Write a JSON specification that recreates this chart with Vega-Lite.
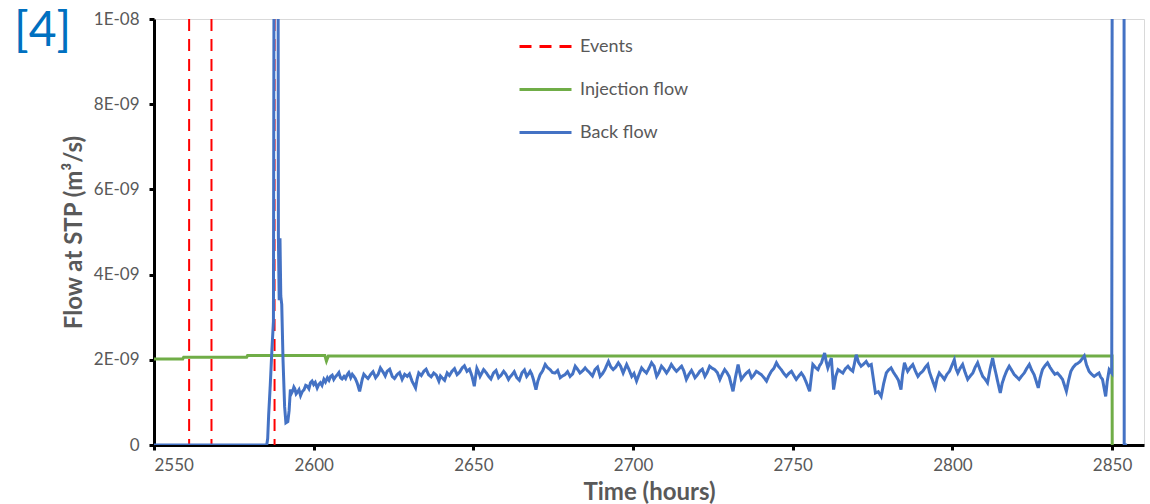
{
  "$schema": "https://vega.github.io/schema/vega-lite/v6.json",
  "width": 990,
  "height": 426,
  "autosize": {"type": "none"},
  "padding": {"left": 154, "top": 19, "right": 6, "bottom": 59},
  "title": {"text": "[4]", "anchor": "start", "orient": "top", "frame": "group", "fontSize": 48, "fontWeight": "normal", "color": "#0070C0", "font": "Lato", "dx": -140, "dy": 46, "offset": 0},
  "config": {"view": {"stroke": "#d9d9d9", "strokeWidth": 1}, "font": "Lato"},
  "datasets": {
    "flows": [
      {"s": "Injection flow", "t": 2550, "v": 2.02e-9},
      {"s": "Injection flow", "t": 2559, "v": 2.02e-9},
      {"s": "Injection flow", "t": 2559.3, "v": 2.06e-9},
      {"s": "Injection flow", "t": 2579, "v": 2.06e-9},
      {"s": "Injection flow", "t": 2579.3, "v": 2.1e-9},
      {"s": "Injection flow", "t": 2603.5, "v": 2.1e-9},
      {"s": "Injection flow", "t": 2604, "v": 1.97e-9},
      {"s": "Injection flow", "t": 2604.6, "v": 2.09e-9},
      {"s": "Injection flow", "t": 2850, "v": 2.09e-9},
      {"s": "Injection flow", "t": 2850.05, "v": 0},
      {"s": "Events", "t": 2561},
      {"s": "Events", "t": 2568},
      {"s": "Events", "t": 2587.75},
      {"s": "Back flow", "t": 2550, "v": 0},
      {"s": "Back flow", "t": 2560, "v": 0},
      {"s": "Back flow", "t": 2570, "v": 0},
      {"s": "Back flow", "t": 2580, "v": 0},
      {"s": "Back flow", "t": 2585.3, "v": 0},
      {"s": "Back flow", "t": 2585.6, "v": 0.15e-9},
      {"s": "Back flow", "t": 2585.9, "v": 0.7e-9},
      {"s": "Back flow", "t": 2586.4, "v": 1.4e-9},
      {"s": "Back flow", "t": 2586.9, "v": 2.2e-9},
      {"s": "Back flow", "t": 2587.4, "v": 2.9e-9},
      {"s": "Back flow", "t": 2587.6, "v": 1.2e-8},
      {"s": "Back flow", "t": 2588.85, "v": 1.2e-8},
      {"s": "Back flow", "t": 2588.95, "v": 4.9e-9},
      {"s": "Back flow", "t": 2589.2, "v": 3.4e-9},
      {"s": "Back flow", "t": 2589.45, "v": 4.85e-9},
      {"s": "Back flow", "t": 2589.7, "v": 3.5e-9},
      {"s": "Back flow", "t": 2590.0, "v": 3.3e-9},
      {"s": "Back flow", "t": 2590.4, "v": 2.0e-9},
      {"s": "Back flow", "t": 2590.9, "v": 0.9e-9},
      {"s": "Back flow", "t": 2591.3, "v": 0.52e-9},
      {"s": "Back flow", "t": 2591.9, "v": 0.55e-9},
      {"s": "Back flow", "t": 2592.3, "v": 0.8e-9},
      {"s": "Back flow", "t": 2592.7, "v": 1.30e-9},
      {"s": "Back flow", "t": 2593.1, "v": 1.22e-9},
      {"s": "Back flow", "t": 2593.5, "v": 1.28e-9},
      {"s": "Back flow", "t": 2593.8, "v": 1.36e-9},
      {"s": "Back flow", "t": 2594.1, "v": 1.32e-9},
      {"s": "Back flow", "t": 2594.5, "v": 1.20e-9},
      {"s": "Back flow", "t": 2594.9, "v": 1.24e-9},
      {"s": "Back flow", "t": 2595.4, "v": 1.30e-9},
      {"s": "Back flow", "t": 2595.9, "v": 1.16e-9},
      {"s": "Back flow", "t": 2596.4, "v": 1.25e-9},
      {"s": "Back flow", "t": 2597, "v": 1.30e-9},
      {"s": "Back flow", "t": 2597.5, "v": 1.40e-9},
      {"s": "Back flow", "t": 2598, "v": 1.38e-9},
      {"s": "Back flow", "t": 2598.5, "v": 1.32e-9},
      {"s": "Back flow", "t": 2599, "v": 1.46e-9},
      {"s": "Back flow", "t": 2599.5, "v": 1.50e-9},
      {"s": "Back flow", "t": 2600, "v": 1.42e-9},
      {"s": "Back flow", "t": 2600.5, "v": 1.47e-9},
      {"s": "Back flow", "t": 2601.1, "v": 1.34e-9},
      {"s": "Back flow", "t": 2601.6, "v": 1.42e-9},
      {"s": "Back flow", "t": 2602.1, "v": 1.46e-9},
      {"s": "Back flow", "t": 2602.6, "v": 1.40e-9},
      {"s": "Back flow", "t": 2603.2, "v": 1.54e-9},
      {"s": "Back flow", "t": 2603.7, "v": 1.48e-9},
      {"s": "Back flow", "t": 2604.3, "v": 1.58e-9},
      {"s": "Back flow", "t": 2604.8, "v": 1.52e-9},
      {"s": "Back flow", "t": 2605.3, "v": 1.61e-9},
      {"s": "Back flow", "t": 2605.8, "v": 1.64e-9},
      {"s": "Back flow", "t": 2606.3, "v": 1.54e-9},
      {"s": "Back flow", "t": 2606.8, "v": 1.60e-9},
      {"s": "Back flow", "t": 2607.4, "v": 1.65e-9},
      {"s": "Back flow", "t": 2607.9, "v": 1.70e-9},
      {"s": "Back flow", "t": 2608.4, "v": 1.58e-9},
      {"s": "Back flow", "t": 2608.9, "v": 1.55e-9},
      {"s": "Back flow", "t": 2609.5, "v": 1.61e-9},
      {"s": "Back flow", "t": 2610.0, "v": 1.56e-9},
      {"s": "Back flow", "t": 2610.5, "v": 1.65e-9},
      {"s": "Back flow", "t": 2611.0, "v": 1.70e-9},
      {"s": "Back flow", "t": 2611.6, "v": 1.58e-9},
      {"s": "Back flow", "t": 2612.1, "v": 1.66e-9},
      {"s": "Back flow", "t": 2612.6, "v": 1.61e-9},
      {"s": "Back flow", "t": 2613.1, "v": 1.55e-9},
      {"s": "Back flow", "t": 2613.6, "v": 1.46e-9},
      {"s": "Back flow", "t": 2614.4, "v": 1.26e-9},
      {"s": "Back flow", "t": 2614.8, "v": 1.40e-9},
      {"s": "Back flow", "t": 2615.2, "v": 1.54e-9},
      {"s": "Back flow", "t": 2615.7, "v": 1.66e-9},
      {"s": "Back flow", "t": 2616.3, "v": 1.61e-9},
      {"s": "Back flow", "t": 2617.0, "v": 1.56e-9},
      {"s": "Back flow", "t": 2617.8, "v": 1.65e-9},
      {"s": "Back flow", "t": 2618.6, "v": 1.72e-9},
      {"s": "Back flow", "t": 2619.4, "v": 1.58e-9},
      {"s": "Back flow", "t": 2620.2, "v": 1.66e-9},
      {"s": "Back flow", "t": 2620.9, "v": 1.81e-9},
      {"s": "Back flow", "t": 2621.4, "v": 1.75e-9},
      {"s": "Back flow", "t": 2621.9, "v": 1.69e-9},
      {"s": "Back flow", "t": 2622.4, "v": 1.62e-9},
      {"s": "Back flow", "t": 2623, "v": 1.73e-9},
      {"s": "Back flow", "t": 2623.8, "v": 1.78e-9},
      {"s": "Back flow", "t": 2624.6, "v": 1.61e-9},
      {"s": "Back flow", "t": 2625.3, "v": 1.56e-9},
      {"s": "Back flow", "t": 2626.1, "v": 1.65e-9},
      {"s": "Back flow", "t": 2626.9, "v": 1.70e-9},
      {"s": "Back flow", "t": 2627.7, "v": 1.54e-9},
      {"s": "Back flow", "t": 2628.5, "v": 1.66e-9},
      {"s": "Back flow", "t": 2629.3, "v": 1.61e-9},
      {"s": "Back flow", "t": 2630.0, "v": 1.67e-9},
      {"s": "Back flow", "t": 2630.8, "v": 1.50e-9},
      {"s": "Back flow", "t": 2631.9, "v": 1.34e-9},
      {"s": "Back flow", "t": 2632.4, "v": 1.55e-9},
      {"s": "Back flow", "t": 2632.9, "v": 1.69e-9},
      {"s": "Back flow", "t": 2633.7, "v": 1.63e-9},
      {"s": "Back flow", "t": 2634.5, "v": 1.73e-9},
      {"s": "Back flow", "t": 2635.2, "v": 1.78e-9},
      {"s": "Back flow", "t": 2636.0, "v": 1.65e-9},
      {"s": "Back flow", "t": 2636.8, "v": 1.60e-9},
      {"s": "Back flow", "t": 2637.6, "v": 1.69e-9},
      {"s": "Back flow", "t": 2638.4, "v": 1.64e-9},
      {"s": "Back flow", "t": 2639.2, "v": 1.50e-9},
      {"s": "Back flow", "t": 2639.7, "v": 1.62e-9},
      {"s": "Back flow", "t": 2640.2, "v": 1.58e-9},
      {"s": "Back flow", "t": 2641.0, "v": 1.52e-9},
      {"s": "Back flow", "t": 2641.8, "v": 1.69e-9},
      {"s": "Back flow", "t": 2642.5, "v": 1.63e-9},
      {"s": "Back flow", "t": 2643.3, "v": 1.73e-9},
      {"s": "Back flow", "t": 2644.1, "v": 1.79e-9},
      {"s": "Back flow", "t": 2644.9, "v": 1.65e-9},
      {"s": "Back flow", "t": 2645.7, "v": 1.71e-9},
      {"s": "Back flow", "t": 2646.5, "v": 1.81e-9},
      {"s": "Back flow", "t": 2647.2, "v": 1.86e-9},
      {"s": "Back flow", "t": 2648.0, "v": 1.73e-9},
      {"s": "Back flow", "t": 2648.8, "v": 1.78e-9},
      {"s": "Back flow", "t": 2649.6, "v": 1.61e-9},
      {"s": "Back flow", "t": 2650.3, "v": 1.38e-9},
      {"s": "Back flow", "t": 2650.7, "v": 1.60e-9},
      {"s": "Back flow", "t": 2651.1, "v": 1.80e-9},
      {"s": "Back flow", "t": 2651.6, "v": 1.72e-9},
      {"s": "Back flow", "t": 2652.1, "v": 1.61e-9},
      {"s": "Back flow", "t": 2652.6, "v": 1.68e-9},
      {"s": "Back flow", "t": 2653.2, "v": 1.77e-9},
      {"s": "Back flow", "t": 2654.0, "v": 1.70e-9},
      {"s": "Back flow", "t": 2654.8, "v": 1.61e-9},
      {"s": "Back flow", "t": 2655.5, "v": 1.55e-9},
      {"s": "Back flow", "t": 2656.3, "v": 1.69e-9},
      {"s": "Back flow", "t": 2657.1, "v": 1.75e-9},
      {"s": "Back flow", "t": 2657.9, "v": 1.58e-9},
      {"s": "Back flow", "t": 2658.7, "v": 1.64e-9},
      {"s": "Back flow", "t": 2659.5, "v": 1.73e-9},
      {"s": "Back flow", "t": 2660.2, "v": 1.66e-9},
      {"s": "Back flow", "t": 2661.0, "v": 1.54e-9},
      {"s": "Back flow", "t": 2661.5, "v": 1.60e-9},
      {"s": "Back flow", "t": 2662.1, "v": 1.65e-9},
      {"s": "Back flow", "t": 2662.8, "v": 1.72e-9},
      {"s": "Back flow", "t": 2663.6, "v": 1.58e-9},
      {"s": "Back flow", "t": 2664.4, "v": 1.52e-9},
      {"s": "Back flow", "t": 2665.2, "v": 1.69e-9},
      {"s": "Back flow", "t": 2666.0, "v": 1.76e-9},
      {"s": "Back flow", "t": 2666.7, "v": 1.61e-9},
      {"s": "Back flow", "t": 2667.2, "v": 1.66e-9},
      {"s": "Back flow", "t": 2667.8, "v": 1.73e-9},
      {"s": "Back flow", "t": 2668.3, "v": 1.66e-9},
      {"s": "Back flow", "t": 2668.8, "v": 1.54e-9},
      {"s": "Back flow", "t": 2669.6, "v": 1.30e-9},
      {"s": "Back flow", "t": 2670.2, "v": 1.50e-9},
      {"s": "Back flow", "t": 2670.9, "v": 1.65e-9},
      {"s": "Back flow", "t": 2671.7, "v": 1.74e-9},
      {"s": "Back flow", "t": 2672.5, "v": 1.89e-9},
      {"s": "Back flow", "t": 2673.2, "v": 1.82e-9},
      {"s": "Back flow", "t": 2674.0, "v": 1.77e-9},
      {"s": "Back flow", "t": 2674.8, "v": 1.70e-9},
      {"s": "Back flow", "t": 2675.6, "v": 1.69e-9},
      {"s": "Back flow", "t": 2676.4, "v": 1.75e-9},
      {"s": "Back flow", "t": 2677.2, "v": 1.58e-9},
      {"s": "Back flow", "t": 2677.9, "v": 1.62e-9},
      {"s": "Back flow", "t": 2678.7, "v": 1.65e-9},
      {"s": "Back flow", "t": 2679.5, "v": 1.72e-9},
      {"s": "Back flow", "t": 2680.3, "v": 1.61e-9},
      {"s": "Back flow", "t": 2681.1, "v": 1.67e-9},
      {"s": "Back flow", "t": 2681.9, "v": 1.85e-9},
      {"s": "Back flow", "t": 2682.6, "v": 1.78e-9},
      {"s": "Back flow", "t": 2683.4, "v": 1.69e-9},
      {"s": "Back flow", "t": 2684.2, "v": 1.74e-9},
      {"s": "Back flow", "t": 2685, "v": 1.81e-9},
      {"s": "Back flow", "t": 2685.7, "v": 1.75e-9},
      {"s": "Back flow", "t": 2686.5, "v": 1.69e-9},
      {"s": "Back flow", "t": 2687.3, "v": 1.62e-9},
      {"s": "Back flow", "t": 2688.1, "v": 1.77e-9},
      {"s": "Back flow", "t": 2688.9, "v": 1.83e-9},
      {"s": "Back flow", "t": 2689.7, "v": 1.61e-9},
      {"s": "Back flow", "t": 2690.4, "v": 1.67e-9},
      {"s": "Back flow", "t": 2691.2, "v": 1.77e-9},
      {"s": "Back flow", "t": 2691.7, "v": 1.86e-9},
      {"s": "Back flow", "t": 2692.3, "v": 1.96e-9},
      {"s": "Back flow", "t": 2693.0, "v": 1.84e-9},
      {"s": "Back flow", "t": 2693.8, "v": 1.77e-9},
      {"s": "Back flow", "t": 2694.6, "v": 1.83e-9},
      {"s": "Back flow", "t": 2695.4, "v": 1.93e-9},
      {"s": "Back flow", "t": 2696.1, "v": 1.85e-9},
      {"s": "Back flow", "t": 2696.9, "v": 1.69e-9},
      {"s": "Back flow", "t": 2697.4, "v": 1.78e-9},
      {"s": "Back flow", "t": 2698, "v": 1.89e-9},
      {"s": "Back flow", "t": 2698.8, "v": 1.76e-9},
      {"s": "Back flow", "t": 2699.6, "v": 1.61e-9},
      {"s": "Back flow", "t": 2700.3, "v": 1.68e-9},
      {"s": "Back flow", "t": 2701.1, "v": 1.50e-9},
      {"s": "Back flow", "t": 2701.9, "v": 1.66e-9},
      {"s": "Back flow", "t": 2702.7, "v": 1.81e-9},
      {"s": "Back flow", "t": 2703.4, "v": 1.75e-9},
      {"s": "Back flow", "t": 2704.2, "v": 1.69e-9},
      {"s": "Back flow", "t": 2705.0, "v": 1.80e-9},
      {"s": "Back flow", "t": 2705.8, "v": 1.93e-9},
      {"s": "Back flow", "t": 2706.6, "v": 1.85e-9},
      {"s": "Back flow", "t": 2707.4, "v": 1.61e-9},
      {"s": "Back flow", "t": 2708.1, "v": 1.70e-9},
      {"s": "Back flow", "t": 2708.9, "v": 1.85e-9},
      {"s": "Back flow", "t": 2709.7, "v": 1.78e-9},
      {"s": "Back flow", "t": 2710.5, "v": 1.69e-9},
      {"s": "Back flow", "t": 2711.2, "v": 1.77e-9},
      {"s": "Back flow", "t": 2712.0, "v": 1.89e-9},
      {"s": "Back flow", "t": 2712.8, "v": 1.80e-9},
      {"s": "Back flow", "t": 2713.6, "v": 1.73e-9},
      {"s": "Back flow", "t": 2714.4, "v": 1.79e-9},
      {"s": "Back flow", "t": 2715.2, "v": 1.85e-9},
      {"s": "Back flow", "t": 2715.9, "v": 1.74e-9},
      {"s": "Back flow", "t": 2716.7, "v": 1.54e-9},
      {"s": "Back flow", "t": 2717.5, "v": 1.66e-9},
      {"s": "Back flow", "t": 2718.3, "v": 1.75e-9},
      {"s": "Back flow", "t": 2718.8, "v": 1.68e-9},
      {"s": "Back flow", "t": 2719.4, "v": 1.58e-9},
      {"s": "Back flow", "t": 2720.1, "v": 1.64e-9},
      {"s": "Back flow", "t": 2720.9, "v": 1.73e-9},
      {"s": "Back flow", "t": 2721.7, "v": 1.78e-9},
      {"s": "Back flow", "t": 2722.5, "v": 1.61e-9},
      {"s": "Back flow", "t": 2723.2, "v": 1.70e-9},
      {"s": "Back flow", "t": 2724, "v": 1.85e-9},
      {"s": "Back flow", "t": 2724.8, "v": 1.80e-9},
      {"s": "Back flow", "t": 2725.6, "v": 1.77e-9},
      {"s": "Back flow", "t": 2726.4, "v": 1.70e-9},
      {"s": "Back flow", "t": 2727.2, "v": 1.54e-9},
      {"s": "Back flow", "t": 2727.9, "v": 1.66e-9},
      {"s": "Back flow", "t": 2728.7, "v": 1.77e-9},
      {"s": "Back flow", "t": 2729.4, "v": 1.70e-9},
      {"s": "Back flow", "t": 2730.1, "v": 1.61e-9},
      {"s": "Back flow", "t": 2731.3, "v": 1.26e-9},
      {"s": "Back flow", "t": 2732.1, "v": 1.60e-9},
      {"s": "Back flow", "t": 2732.9, "v": 1.89e-9},
      {"s": "Back flow", "t": 2733.4, "v": 1.70e-9},
      {"s": "Back flow", "t": 2733.9, "v": 1.54e-9},
      {"s": "Back flow", "t": 2734.7, "v": 1.62e-9},
      {"s": "Back flow", "t": 2735.5, "v": 1.69e-9},
      {"s": "Back flow", "t": 2736.3, "v": 1.74e-9},
      {"s": "Back flow", "t": 2737.1, "v": 1.58e-9},
      {"s": "Back flow", "t": 2737.8, "v": 1.64e-9},
      {"s": "Back flow", "t": 2738.6, "v": 1.73e-9},
      {"s": "Back flow", "t": 2739.4, "v": 1.69e-9},
      {"s": "Back flow", "t": 2740.2, "v": 1.65e-9},
      {"s": "Back flow", "t": 2741.0, "v": 1.58e-9},
      {"s": "Back flow", "t": 2741.8, "v": 1.50e-9},
      {"s": "Back flow", "t": 2742.5, "v": 1.62e-9},
      {"s": "Back flow", "t": 2743.3, "v": 1.73e-9},
      {"s": "Back flow", "t": 2744.1, "v": 1.80e-9},
      {"s": "Back flow", "t": 2744.9, "v": 1.93e-9},
      {"s": "Back flow", "t": 2745.6, "v": 1.84e-9},
      {"s": "Back flow", "t": 2746.4, "v": 1.77e-9},
      {"s": "Back flow", "t": 2747.2, "v": 1.68e-9},
      {"s": "Back flow", "t": 2748, "v": 1.61e-9},
      {"s": "Back flow", "t": 2748.8, "v": 1.68e-9},
      {"s": "Back flow", "t": 2749.6, "v": 1.73e-9},
      {"s": "Back flow", "t": 2750.3, "v": 1.64e-9},
      {"s": "Back flow", "t": 2751.1, "v": 1.54e-9},
      {"s": "Back flow", "t": 2751.9, "v": 1.62e-9},
      {"s": "Back flow", "t": 2752.7, "v": 1.69e-9},
      {"s": "Back flow", "t": 2753.5, "v": 1.60e-9},
      {"s": "Back flow", "t": 2754.3, "v": 1.46e-9},
      {"s": "Back flow", "t": 2755.3, "v": 1.26e-9},
      {"s": "Back flow", "t": 2755.8, "v": 1.58e-9},
      {"s": "Back flow", "t": 2756.3, "v": 1.89e-9},
      {"s": "Back flow", "t": 2757.1, "v": 1.82e-9},
      {"s": "Back flow", "t": 2757.9, "v": 1.77e-9},
      {"s": "Back flow", "t": 2758.4, "v": 1.86e-9},
      {"s": "Back flow", "t": 2759.0, "v": 1.93e-9},
      {"s": "Back flow", "t": 2760, "v": 2.16e-9},
      {"s": "Back flow", "t": 2760.5, "v": 1.95e-9},
      {"s": "Back flow", "t": 2761.0, "v": 1.81e-9},
      {"s": "Back flow", "t": 2761.5, "v": 1.92e-9},
      {"s": "Back flow", "t": 2762.1, "v": 2.04e-9},
      {"s": "Back flow", "t": 2762.8, "v": 1.30e-9},
      {"s": "Back flow", "t": 2763.5, "v": 1.62e-9},
      {"s": "Back flow", "t": 2764.2, "v": 1.77e-9},
      {"s": "Back flow", "t": 2764.9, "v": 1.73e-9},
      {"s": "Back flow", "t": 2765.7, "v": 1.69e-9},
      {"s": "Back flow", "t": 2766.5, "v": 1.79e-9},
      {"s": "Back flow", "t": 2767.3, "v": 1.85e-9},
      {"s": "Back flow", "t": 2768.0, "v": 1.78e-9},
      {"s": "Back flow", "t": 2768.8, "v": 1.73e-9},
      {"s": "Back flow", "t": 2769.3, "v": 1.90e-9},
      {"s": "Back flow", "t": 2769.9, "v": 2.12e-9},
      {"s": "Back flow", "t": 2770.6, "v": 1.94e-9},
      {"s": "Back flow", "t": 2771.4, "v": 1.85e-9},
      {"s": "Back flow", "t": 2772.2, "v": 1.90e-9},
      {"s": "Back flow", "t": 2773, "v": 1.96e-9},
      {"s": "Back flow", "t": 2773.8, "v": 1.86e-9},
      {"s": "Back flow", "t": 2774.6, "v": 1.89e-9},
      {"s": "Back flow", "t": 2775.9, "v": 1.22e-9},
      {"s": "Back flow", "t": 2776.8, "v": 1.25e-9},
      {"s": "Back flow", "t": 2777.7, "v": 1.14e-9},
      {"s": "Back flow", "t": 2778.5, "v": 1.45e-9},
      {"s": "Back flow", "t": 2779.3, "v": 1.69e-9},
      {"s": "Back flow", "t": 2780.0, "v": 1.76e-9},
      {"s": "Back flow", "t": 2780.8, "v": 1.81e-9},
      {"s": "Back flow", "t": 2781.6, "v": 1.70e-9},
      {"s": "Back flow", "t": 2782.4, "v": 1.61e-9},
      {"s": "Back flow", "t": 2783.1, "v": 1.52e-9},
      {"s": "Back flow", "t": 2783.9, "v": 1.30e-9},
      {"s": "Back flow", "t": 2784.4, "v": 1.65e-9},
      {"s": "Back flow", "t": 2785, "v": 1.93e-9},
      {"s": "Back flow", "t": 2785.5, "v": 1.82e-9},
      {"s": "Back flow", "t": 2786, "v": 1.73e-9},
      {"s": "Back flow", "t": 2786.8, "v": 1.82e-9},
      {"s": "Back flow", "t": 2787.6, "v": 1.89e-9},
      {"s": "Back flow", "t": 2788.4, "v": 1.74e-9},
      {"s": "Back flow", "t": 2789.2, "v": 1.61e-9},
      {"s": "Back flow", "t": 2789.9, "v": 1.68e-9},
      {"s": "Back flow", "t": 2790.7, "v": 1.73e-9},
      {"s": "Back flow", "t": 2791.5, "v": 1.82e-9},
      {"s": "Back flow", "t": 2792.3, "v": 1.89e-9},
      {"s": "Back flow", "t": 2792.8, "v": 1.72e-9},
      {"s": "Back flow", "t": 2793.3, "v": 1.61e-9},
      {"s": "Back flow", "t": 2794.6, "v": 1.34e-9},
      {"s": "Back flow", "t": 2795.2, "v": 1.55e-9},
      {"s": "Back flow", "t": 2795.9, "v": 1.69e-9},
      {"s": "Back flow", "t": 2796.7, "v": 1.62e-9},
      {"s": "Back flow", "t": 2797.5, "v": 1.54e-9},
      {"s": "Back flow", "t": 2798.3, "v": 1.66e-9},
      {"s": "Back flow", "t": 2799.1, "v": 1.73e-9},
      {"s": "Back flow", "t": 2799.8, "v": 1.86e-9},
      {"s": "Back flow", "t": 2800.6, "v": 2.00e-9},
      {"s": "Back flow", "t": 2801.1, "v": 1.80e-9},
      {"s": "Back flow", "t": 2801.7, "v": 1.69e-9},
      {"s": "Back flow", "t": 2802.4, "v": 1.80e-9},
      {"s": "Back flow", "t": 2803.2, "v": 1.89e-9},
      {"s": "Back flow", "t": 2804.0, "v": 1.70e-9},
      {"s": "Back flow", "t": 2804.8, "v": 1.54e-9},
      {"s": "Back flow", "t": 2805.6, "v": 1.62e-9},
      {"s": "Back flow", "t": 2806.4, "v": 1.69e-9},
      {"s": "Back flow", "t": 2807.1, "v": 1.82e-9},
      {"s": "Back flow", "t": 2807.9, "v": 1.93e-9},
      {"s": "Back flow", "t": 2808.7, "v": 1.76e-9},
      {"s": "Back flow", "t": 2809.5, "v": 1.61e-9},
      {"s": "Back flow", "t": 2810.2, "v": 1.55e-9},
      {"s": "Back flow", "t": 2811.0, "v": 1.46e-9},
      {"s": "Back flow", "t": 2811.8, "v": 1.78e-9},
      {"s": "Back flow", "t": 2812.6, "v": 2.04e-9},
      {"s": "Back flow", "t": 2813.1, "v": 1.85e-9},
      {"s": "Back flow", "t": 2813.6, "v": 1.69e-9},
      {"s": "Back flow", "t": 2814.3, "v": 1.45e-9},
      {"s": "Back flow", "t": 2815, "v": 1.22e-9},
      {"s": "Back flow", "t": 2815.6, "v": 1.45e-9},
      {"s": "Back flow", "t": 2816.3, "v": 1.61e-9},
      {"s": "Back flow", "t": 2817.0, "v": 1.74e-9},
      {"s": "Back flow", "t": 2817.8, "v": 1.85e-9},
      {"s": "Back flow", "t": 2818.6, "v": 1.75e-9},
      {"s": "Back flow", "t": 2819.4, "v": 1.65e-9},
      {"s": "Back flow", "t": 2820.1, "v": 1.60e-9},
      {"s": "Back flow", "t": 2820.9, "v": 1.54e-9},
      {"s": "Back flow", "t": 2821.7, "v": 1.62e-9},
      {"s": "Back flow", "t": 2822.5, "v": 1.69e-9},
      {"s": "Back flow", "t": 2823.3, "v": 1.80e-9},
      {"s": "Back flow", "t": 2824.1, "v": 1.89e-9},
      {"s": "Back flow", "t": 2824.8, "v": 1.76e-9},
      {"s": "Back flow", "t": 2825.6, "v": 1.65e-9},
      {"s": "Back flow", "t": 2826.9, "v": 1.34e-9},
      {"s": "Back flow", "t": 2827.5, "v": 1.58e-9},
      {"s": "Back flow", "t": 2828.2, "v": 1.77e-9},
      {"s": "Back flow", "t": 2829.0, "v": 1.86e-9},
      {"s": "Back flow", "t": 2829.8, "v": 1.93e-9},
      {"s": "Back flow", "t": 2830.6, "v": 1.82e-9},
      {"s": "Back flow", "t": 2831.4, "v": 1.73e-9},
      {"s": "Back flow", "t": 2832.1, "v": 1.66e-9},
      {"s": "Back flow", "t": 2832.9, "v": 1.69e-9},
      {"s": "Back flow", "t": 2833.7, "v": 1.62e-9},
      {"s": "Back flow", "t": 2834.5, "v": 1.54e-9},
      {"s": "Back flow", "t": 2835.7, "v": 1.26e-9},
      {"s": "Back flow", "t": 2836.4, "v": 1.52e-9},
      {"s": "Back flow", "t": 2837.1, "v": 1.73e-9},
      {"s": "Back flow", "t": 2837.8, "v": 1.82e-9},
      {"s": "Back flow", "t": 2838.6, "v": 1.89e-9},
      {"s": "Back flow", "t": 2839.3, "v": 1.92e-9},
      {"s": "Back flow", "t": 2840.0, "v": 1.96e-9},
      {"s": "Back flow", "t": 2840.6, "v": 2.02e-9},
      {"s": "Back flow", "t": 2841.3, "v": 2.09e-9},
      {"s": "Back flow", "t": 2842.0, "v": 1.88e-9},
      {"s": "Back flow", "t": 2842.8, "v": 1.73e-9},
      {"s": "Back flow", "t": 2843.6, "v": 1.66e-9},
      {"s": "Back flow", "t": 2844.4, "v": 1.61e-9},
      {"s": "Back flow", "t": 2845.1, "v": 1.65e-9},
      {"s": "Back flow", "t": 2845.9, "v": 1.69e-9},
      {"s": "Back flow", "t": 2846.4, "v": 1.60e-9},
      {"s": "Back flow", "t": 2847, "v": 1.54e-9},
      {"s": "Back flow", "t": 2848, "v": 1.14e-9},
      {"s": "Back flow", "t": 2848.5, "v": 1.50e-9},
      {"s": "Back flow", "t": 2849.1, "v": 1.77e-9},
      {"s": "Back flow", "t": 2849.9, "v": 1.69e-9},
      {"s": "Back flow", "t": 2850.05, "v": 1.2e-8},
      {"s": "Back flow", "t": 2853.75, "v": 1.2e-8},
      {"s": "Back flow", "t": 2853.8, "v": 0},
      {"s": "Back flow", "t": 2854.7, "v": 0}
    ]
  },
  "data": {"name": "flows"},
  "encoding": {
    "x": {
      "field": "t", "type": "quantitative",
      "scale": {"domain": [2550, 2860], "nice": false, "zero": false},
      "axis": {
        "values": [2550, 2600, 2650, 2700, 2750, 2800, 2850],
        "format": "d",
        "title": "Time (hours)",
        "titleFont": "Lato", "titleFontSize": 24, "titleFontWeight": "bold", "titleColor": "#595959", "titlePadding": 7,
        "labelFont": "Lato", "labelFontSize": 17, "labelColor": "#595959", "labelPadding": 7,
        "domainColor": "black", "domainWidth": 3, "tickColor": "black", "tickWidth": 3, "tickSize": 5, "grid": false
      }
    },
    "color": {
      "field": "s", "type": "nominal",
      "scale": {"domain": ["Events", "Injection flow", "Back flow"], "range": ["#FF0000", "#70AD47", "#4472C4"]},
      "legend": {
        "title": null, "orient": "none", "legendX": 364, "legendY": 0,
        "symbolType": "stroke", "symbolSize": 2704, "symbolStrokeWidth": 3,
        "labelFont": "Lato", "labelFontSize": 18, "labelColor": "#595959", "labelOffset": 7,
        "rowPadding": 6
      }
    },
    "strokeDash": {
      "field": "s", "type": "nominal",
      "scale": {"domain": ["Events", "Injection flow", "Back flow"], "range": [[12, 8], [1, 0], [1, 0]]},
      "legend": {
        "title": null, "orient": "none", "legendX": 364, "legendY": 0,
        "symbolType": "stroke", "symbolSize": 2704, "symbolStrokeWidth": 3,
        "labelFont": "Lato", "labelFontSize": 18, "labelColor": "#595959", "labelOffset": 7,
        "rowPadding": 6
      }
    }
  },
  "layer": [
    {
      "transform": [{"filter": "datum.s === 'Injection flow'"}],
      "mark": {"type": "line", "strokeWidth": 3, "clip": true},
      "encoding": {
        "y": {
          "field": "v", "type": "quantitative",
          "scale": {"domain": [0, 1e-8], "nice": false},
          "axis": {
            "values": [0, 2e-9, 4e-9, 6e-9, 8e-9, 1e-8],
            "labelExpr": "datum.value == 0 ? '0' : (datum.value > 9.9e-9 ? '1E-08' : format(datum.value * 1e9, '.0f') + 'E-09')",
            "title": "Flow at STP (m³/s)",
            "titleFont": "Lato", "titleFontSize": 24, "titleFontWeight": "bold", "titleColor": "#595959", "titlePadding": 7,
            "labelFont": "Lato", "labelFontSize": 17, "labelColor": "#595959", "labelPadding": 10,
            "domainColor": "black", "domainWidth": 3, "tickColor": "black", "tickWidth": 3, "tickSize": 5, "grid": false
          }
        }
      }
    },
    {
      "transform": [{"filter": "datum.s === 'Events'"}],
      "mark": {"type": "rule", "strokeWidth": 2},
      "encoding": {}
    },
    {
      "transform": [{"filter": "datum.s === 'Back flow'"}],
      "mark": {"type": "line", "strokeWidth": 3, "clip": true},
      "encoding": {
        "y": {"field": "v", "type": "quantitative"}
      }
    }
  ]
}
